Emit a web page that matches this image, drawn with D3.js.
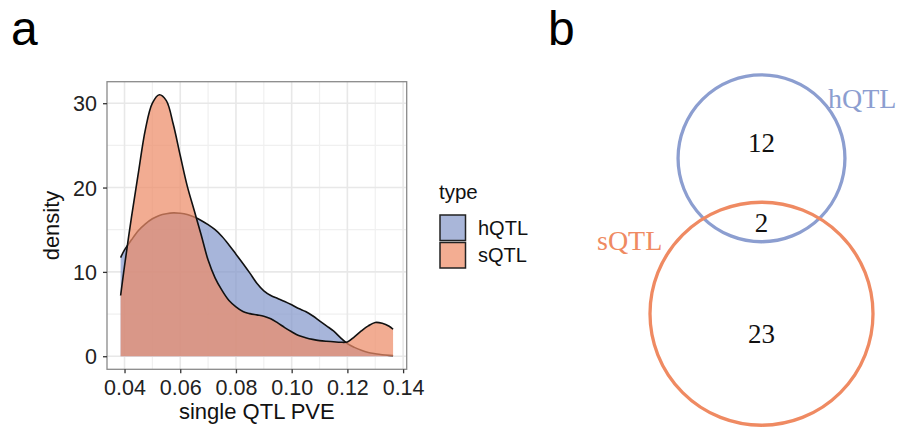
<!DOCTYPE html>
<html>
<head>
<meta charset="utf-8">
<script src="https://cdn.jsdelivr.net/npm/d3@7"></script>
<style>
  html, body { margin: 0; padding: 0; background: #fff; }
  svg { display: block; }
</style>
</head>
<body>
<svg id="fig" width="904" height="430"></svg>
<script>
// ---- panel a: density of single-QTL PVE per QTL type ----
const pveGrid = [0.0386, 0.040, 0.0425, 0.045, 0.0475, 0.050, 0.0525, 0.055, 0.0575, 0.060,
  0.0625, 0.065, 0.0675, 0.070, 0.0725, 0.075, 0.0775, 0.080, 0.0825, 0.085,
  0.0875, 0.090, 0.0925, 0.095, 0.0975, 0.100, 0.1025, 0.105, 0.1075, 0.110,
  0.1125, 0.115, 0.1175, 0.120, 0.1225, 0.125, 0.1275, 0.130, 0.1325, 0.135, 0.1364];
const hqtlDensity = [11.7, 12.6, 13.8, 14.9, 15.7, 16.3, 16.7, 16.9, 17.0, 16.95,
  16.8, 16.5, 16.1, 15.6, 15.0, 14.2, 13.2, 12.1, 11.0, 9.85,
  8.65, 7.75, 7.2, 6.85, 6.5, 6.1, 5.65, 5.3, 4.8, 4.2,
  3.6, 3.0, 2.2, 1.5, 1.05, 0.7, 0.45, 0.3, 0.18, 0.1, 0.07];
const sqtlDensity = [7.2, 10.7, 16.5, 21.8, 26.9, 30.0, 31.0, 30.3, 27.5, 23.8,
  20.2, 17.3, 14.4, 11.4, 9.3, 7.8, 6.6, 5.85, 5.3, 5.05,
  4.9, 4.75, 4.45, 3.95, 3.4, 2.9, 2.45, 2.2, 2.0, 1.85,
  1.77, 1.72, 1.66, 1.7, 2.3, 3.0, 3.6, 4.0, 3.9, 3.55, 3.2];
const typeNames = ["hQTL", "sQTL"];
const xTicks = [0.04, 0.06, 0.08, 0.10, 0.12, 0.14];
const yTicks = [0, 10, 20, 30];

// ---- panel b: overlap counts ----
const vennCounts = { hOnly: 12, both: 2, sOnly: 23 };

const fillColors = { hQTL: "rgba(130,150,202,0.7)", sQTL: "rgba(237,140,104,0.72)" };
const keyColors = { hQTL: "#a9b6d9", sQTL: "#f3ad92" };
const vennColors = { hQTL: "#8c9ed0", sQTL: "#ef8a62" };

const svg = d3.select("#fig");
const sans = "'Liberation Sans', Arial, Helvetica, sans-serif";
const serif = "'Liberation Serif', 'Times New Roman', serif";

// panel tags
svg.append("text").attr("x", 11).attr("y", 45).text("a")
  .style("font-family", sans).style("font-size", "48px").attr("fill", "#000");
svg.append("text").attr("x", 548).attr("y", 45).text("b")
  .style("font-family", sans).style("font-size", "48px").attr("fill", "#000");

// plot area
const P = { left: 107, right: 406.7, top: 81.7, bottom: 369.3 };
const series = typeNames.map(name => ({
  name,
  values: pveGrid.map((x, i) => ({ x, y: (name === "hQTL" ? hqtlDensity : sqtlDensity)[i] }))
}));

const xExt = d3.extent(pveGrid);
const xPad = (xExt[1] - xExt[0]) * 0.05;
const yMax = d3.max([...hqtlDensity, ...sqtlDensity]);
const x = d3.scaleLinear().domain([xExt[0] - xPad, xExt[1] + xPad]).range([P.left, P.right]);
const y = d3.scaleLinear().domain([-yMax * 0.05, yMax * 1.05]).range([P.bottom, P.top]);

const g = svg.append("g");

// grid: minor then major
const xMinor = xTicks.slice(0, -1).map((t, i) => (t + xTicks[i + 1]) / 2);
const yMinor = yTicks.slice(0, -1).map((t, i) => (t + yTicks[i + 1]) / 2);
g.selectAll(".xminor").data(xMinor).join("line")
  .attr("x1", d => x(d)).attr("x2", d => x(d)).attr("y1", P.top).attr("y2", P.bottom)
  .attr("stroke", "#f0f0f0").attr("stroke-width", 1.2);
g.selectAll(".yminor").data(yMinor).join("line")
  .attr("y1", d => y(d)).attr("y2", d => y(d)).attr("x1", P.left).attr("x2", P.right)
  .attr("stroke", "#f0f0f0").attr("stroke-width", 1.2);
g.selectAll(".xmajor").data(xTicks.filter(t => x(t) < P.right)).join("line")
  .attr("x1", d => x(d)).attr("x2", d => x(d)).attr("y1", P.top).attr("y2", P.bottom)
  .attr("stroke", "#e8e8e8").attr("stroke-width", 1.6);
g.selectAll(".ymajor").data(yTicks).join("line")
  .attr("y1", d => y(d)).attr("y2", d => y(d)).attr("x1", P.left).attr("x2", P.right)
  .attr("stroke", "#e8e8e8").attr("stroke-width", 1.6);

// densities
const area = d3.area().x(d => x(d.x)).y0(y(0)).y1(d => y(d.y)).curve(d3.curveCatmullRom.alpha(0.5));
const line = d3.line().x(d => x(d.x)).y(d => y(d.y)).curve(d3.curveCatmullRom.alpha(0.5));
series.forEach(s => {
  g.append("path").datum(s.values).attr("d", area).attr("fill", fillColors[s.name]);
  g.append("path").datum(s.values).attr("d", line).attr("fill", "none")
    .attr("stroke", "#111").attr("stroke-width", 1.6).attr("stroke-linejoin", "round");
});

// panel border
g.append("rect").attr("x", P.left).attr("y", P.top)
  .attr("width", P.right - P.left).attr("height", P.bottom - P.top)
  .attr("fill", "none").attr("stroke", "#8a8a8a").attr("stroke-width", 1.3);

// axes
const xAxis = d3.axisBottom(x).tickValues(xTicks).tickFormat(d3.format(".2f")).tickSize(4).tickPadding(6.4);
const yAxis = d3.axisLeft(y).tickValues(yTicks).tickFormat(d3.format("d")).tickSize(4).tickPadding(6);
const gx = svg.append("g").attr("transform", `translate(0,${P.bottom})`).call(xAxis);
const gy = svg.append("g").attr("transform", `translate(${P.left},0)`).call(yAxis);
[gx, gy].forEach(a => {
  a.select(".domain").remove();
  a.selectAll(".tick line").attr("stroke", "#333").attr("stroke-width", 1.3);
  a.selectAll(".tick text").style("font-family", sans).style("font-size", "21.5px").attr("fill", "#222");
});
gy.selectAll(".tick text").attr("dy", "0.36em");

svg.append("text").attr("x", (P.left + P.right) / 2).attr("y", 419)
  .attr("text-anchor", "middle").text("single QTL PVE")
  .style("font-family", sans).style("font-size", "22px").attr("fill", "#111");
svg.append("text").attr("transform", `translate(59,${(P.top + P.bottom) / 2}) rotate(-90)`)
  .attr("text-anchor", "middle").text("density")
  .style("font-family", sans).style("font-size", "22px").attr("fill", "#111");

// legend
const lg = svg.append("g").attr("transform", "translate(439,0)");
lg.append("text").attr("x", 0).attr("y", 199).text("type")
  .style("font-family", sans).style("font-size", "20.5px").attr("fill", "#111");
typeNames.forEach((name, i) => {
  const top = 215 + i * 27.5;
  lg.append("rect").attr("x", 1).attr("y", top).attr("width", 25.5).attr("height", 25.5)
    .attr("fill", keyColors[name]).attr("stroke", "#222").attr("stroke-width", 1.5);
  lg.append("text").attr("x", 39).attr("y", top + 12.75).attr("dy", "0.36em").text(name)
    .style("font-family", sans).style("font-size", "20px").attr("fill", "#111");
});

// ---- panel b: area-proportional two-set diagram ----
const hTotal = vennCounts.hOnly + vennCounts.both;
const sTotal = vennCounts.sOnly + vennCounts.both;
const rScale = d3.scaleSqrt().domain([0, 1]).range([0, 22.3]);
const r1 = rScale(hTotal), r2 = rScale(sTotal);
const unitArea = Math.PI * rScale(1) ** 2;
function lens(d) {
  const a1 = (d * d + r1 * r1 - r2 * r2) / (2 * d);
  const a2 = d - a1;
  const seg = (r, a) => r * r * Math.acos(a / r) - a * Math.sqrt(r * r - a * a);
  return seg(r1, a1) + seg(r2, a2);
}
// find centre distance so the lens area matches the shared count
let lo = r2 - r1 + 1e-6, hi = r1 + r2 - 1e-6;
const target = vennCounts.both * unitArea;
for (let k = 0; k < 60; k++) {
  const mid = (lo + hi) / 2;
  if (lens(mid) > target) lo = mid; else hi = mid;
}
const dist = (lo + hi) / 2;
const cx = 761.5, c1y = 158.3, c2y = c1y + dist;

const vb = svg.append("g");
vb.append("circle").attr("cx", cx).attr("cy", c1y).attr("r", r1)
  .attr("fill", "none").attr("stroke", vennColors.hQTL).attr("stroke-width", 3.3);
vb.append("circle").attr("cx", cx).attr("cy", c2y).attr("r", r2)
  .attr("fill", "none").attr("stroke", vennColors.sQTL).attr("stroke-width", 3.3);

const numStyle = t => t.style("font-family", serif).style("font-size", "27px")
  .attr("fill", "#111").attr("text-anchor", "middle");
vb.append("text").attr("x", cx).attr("y", c1y - 15 + 9).text(vennCounts.hOnly).call(numStyle);
vb.append("text").attr("x", cx).attr("y", ((c2y - r2) + (c1y + r1)) / 2 + 1.5 + 9).text(vennCounts.both).call(numStyle);
vb.append("text").attr("x", cx).attr("y", ((c1y + r1) + (c2y + r2)) / 2 + 1 + 9).text(vennCounts.sOnly).call(numStyle);

vb.append("text").attr("x", 828).attr("y", 108).text("hQTL")
  .style("font-family", serif).style("font-size", "28px").attr("fill", vennColors.hQTL);
vb.append("text").attr("x", 597).attr("y", 250).text("sQTL")
  .style("font-family", serif).style("font-size", "28px").attr("fill", vennColors.sQTL);
</script>
</body>
</html>
